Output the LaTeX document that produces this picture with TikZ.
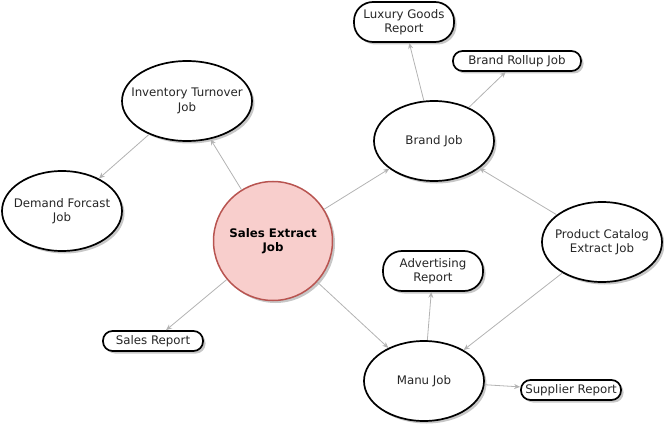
\documentclass[tikz,border=0pt]{standalone}
\usepackage{fontspec}
\setmainfont{DejaVu Sans}
\usetikzlibrary{shapes.geometric,arrows.meta,shadows}
\definecolor{pinkfill}{HTML}{F8CECC}
\definecolor{pinkline}{HTML}{B85450}
\definecolor{edgegray}{HTML}{B3B3B3}
\begin{document}
\begin{tikzpicture}[x=1pt,y=-1pt,
  shd/.style={drop shadow={shadow xshift=2.5pt,shadow yshift=-2.5pt,fill=black,opacity=0.22}},
  txt/.style={font=\fontsize{11.8}{14.5}\selectfont, align=center, text=black!85},
  job/.style={ellipse, draw=black, line width=1.7pt, fill=white, minimum width=120pt, minimum height=80pt, inner ysep=0pt, inner xsep=-16pt, txt, shd},
  bigreport/.style={rectangle, rounded corners=19pt, draw=black, line width=1.7pt, fill=white, minimum width=100pt, minimum height=40pt, inner sep=0pt, txt, shd},
  smallreport/.style={rectangle, rounded corners=9.5pt, draw=black, line width=1.7pt, fill=white, minimum width=100pt, minimum height=20pt, inner sep=0pt, txt, shd},
  edge/.style={draw=edgegray, line width=0.8pt, -{Stealth[length=6pt,width=5pt]}}
]
\useasboundingbox (0,0) rectangle (664,425);

% nodes
\node[circle, draw=pinkline, fill=pinkfill, line width=1.5pt, minimum size=119pt, inner sep=-10pt,
      font=\bfseries\fontsize{11.8}{14.5}\selectfont, align=center, shd] (se) at (273,241) {Sales Extract\\Job};
\node[job, minimum width=130pt] (inv) at (187,101) {Inventory Turnover\\Job};
\node[job] (dem) at (62,211) {Demand Forcast\\Job};
\node[job] (brand) at (434,141) {Brand Job};
\node[job] (prod) at (602,242) {Product Catalog\\Extract Job};
\node[job] (manu) at (424,381) {Manu Job};
\node[bigreport] (lux) at (404,22) {Luxury Goods\\Report};
\node[bigreport] (adv) at (433,271) {Advertising\\Report};
\node[smallreport, minimum width=128pt] (rollup) at (517,61) {Brand Rollup Job};
\node[smallreport] (supp) at (571,390) {Supplier Report};
\node[smallreport] (sales) at (153,341) {Sales Report};

% edges
\draw[edge] (se) -- (inv);
\draw[edge] (inv) -- (dem);
\draw[edge] (se) -- (brand);
\draw[edge] (se) -- (sales);
\draw[edge] (se) -- (manu);
\draw[edge] (brand) -- (lux);
\draw[edge] (brand) -- (rollup);
\draw[edge] (prod) -- (brand);
\draw[edge] (prod) -- (manu);
\draw[edge] (manu) -- (adv);
\draw[edge] (manu) -- (supp);
\end{tikzpicture}
\end{document}
